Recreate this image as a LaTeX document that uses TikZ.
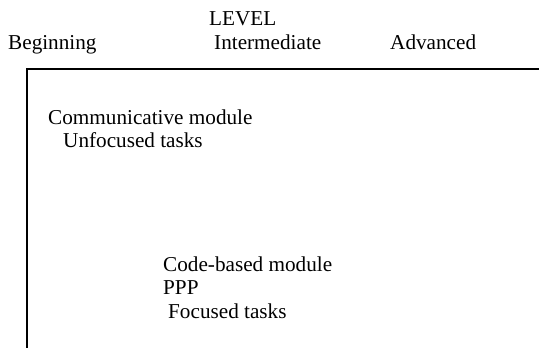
\documentclass[tikz,border=0pt]{standalone}
\usepackage{fontspec}
\setmainfont{Liberation Serif}
\usepackage{tikz}
\usetikzlibrary{positioning}

\begin{document}
\begin{tikzpicture}[x=1pt, y=-1pt,
    lbl/.style={anchor=base west, inner sep=0pt, font=\fontsize{21.2}{25}\selectfont}]
    \useasboundingbox (0,0) rectangle (539,348);

    % Level axis
    \node[lbl] (level) at (209,25) {LEVEL};
    \node[lbl] (begin) at (8,49) {Beginning};
    \node[lbl] (inter) at (214,49) {Intermediate};
    \node[lbl] (adv) at (390,49) {Advanced};

    % Frame
    \draw[line width=1.6pt] (539,69) -- (27,69) -- (27,348);

    % Communicative module
    \node[lbl] (comm) at (48,124) {Communicative module};
    \node[lbl] (unfoc) at (63,147) {Unfocused tasks};

    % Code-based module
    \node[lbl] (code) at (163,271) {Code-based module};
    \node[lbl] (ppp) at (163,294) {PPP};
    \node[lbl] (foc) at (168,318) {Focused tasks};
\end{tikzpicture}
\end{document}
